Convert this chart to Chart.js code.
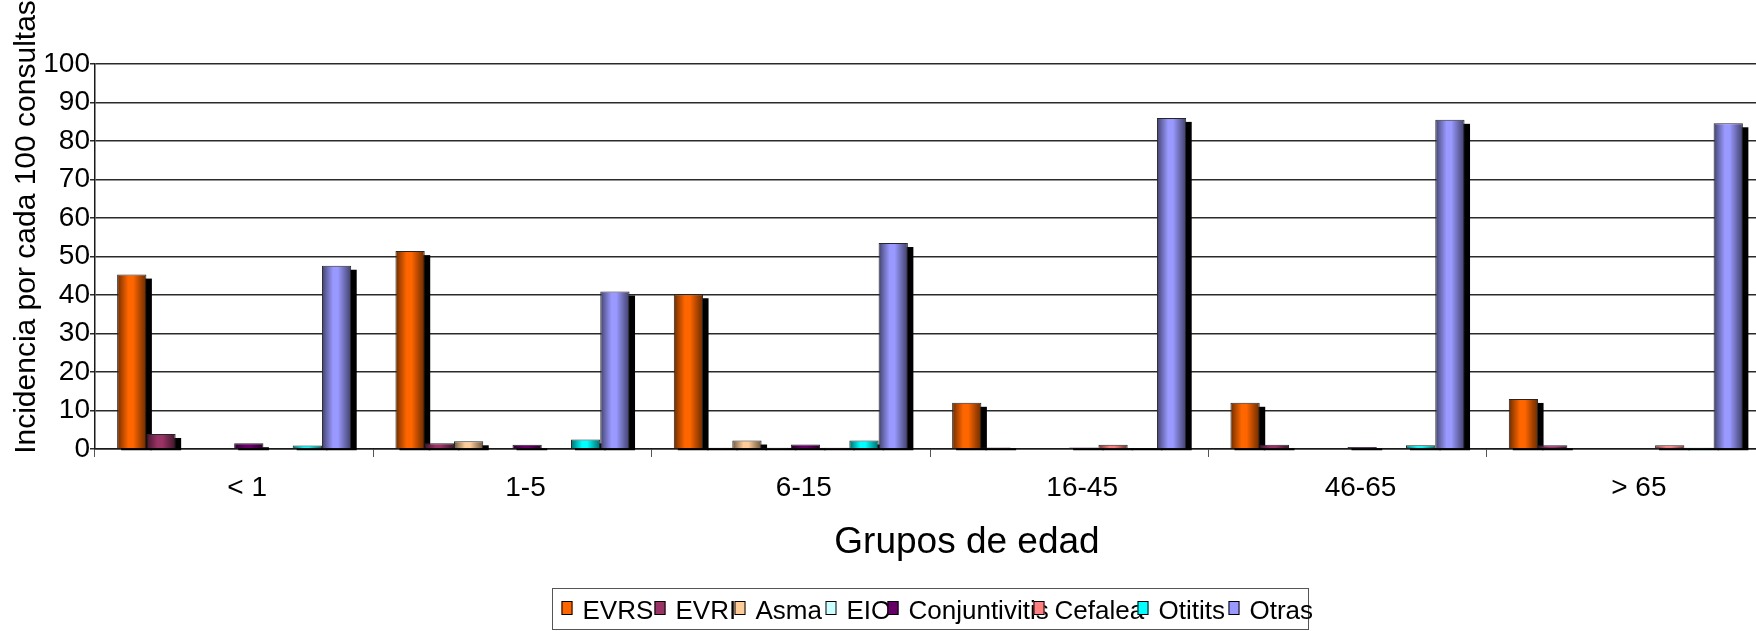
<!DOCTYPE html>
<html lang="es">
<head>
<meta charset="utf-8">
<title>Incidencia por grupos de edad</title>
<script src="https://cdn.jsdelivr.net/npm/chart.js@4.4.1/dist/chart.umd.min.js"></script>
<style>
  html, body { margin: 0; padding: 0; background: #fff; overflow: hidden; }
  #wrap { width: 1775px; height: 631px; }
</style>
</head>
<body>
<div id="wrap"><canvas id="chart" width="1775" height="631"></canvas></div>
<script>
// Grupos de edad
const CATEGORIES = ['< 1', '1-5', '6-15', '16-45', '46-65', '> 65'];

// Incidencia por cada 100 consultas, por motivo
const EVRS          = [45.3, 51.4, 40.2, 12.0, 12.0, 13.0];
const EVRI          = [3.9, 1.5, 0.3, 0.4, 1.1, 1.0];
const ASMA          = [0, 2.0, 2.2, 0, 0, 0];
const EIO           = [0, 0, 0.3, 0, 0, 0];
const CONJUNTIVITIS = [1.5, 1.1, 1.2, 0.4, 0.5, 0];
const CEFALEA       = [0, 0, 0.3, 1.1, 0, 1.0];
const OTITITS       = [0.9, 2.5, 2.2, 0.2, 1.0, 0.3];
const OTRAS         = [47.6, 40.9, 53.5, 86.0, 85.5, 84.6];

const SERIES_NAMES  = ['EVRS', 'EVRI', 'Asma', 'EIO', 'Conjuntivitis', 'Cefalea', 'Otitits', 'Otras'];
const SERIES_VALUES = [EVRS, EVRI, ASMA, EIO, CONJUNTIVITIS, CEFALEA, OTITITS, OTRAS];
const SERIES_COLORS = ['#FF6600', '#993366', '#FFCC99', '#CCFFFF', '#660066', '#FF8080', '#00FFFF', '#9999FF'];

// Eje vertical
const Y_MIN = 0, Y_MAX = 100, Y_STEP = 10;

const Y_TITLE = 'Incidencia por cada 100 consultas';
const X_TITLE = 'Grupos de edad';

const FONT = '"Liberation Sans", Arial, Helvetica, sans-serif';

// Anchura de cada hueco de la leyenda (px)
const LEGEND_SLOTS = [93, 80, 91, 62, 146, 104, 91, 80];

function shade(hex, f) {
  const n = parseInt(hex.slice(1), 16);
  const r = Math.round(((n >> 16) & 255) * f);
  const g = Math.round(((n >> 8) & 255) * f);
  const b = Math.round((n & 255) * f);
  return 'rgb(' + r + ',' + g + ',' + b + ')';
}

// Sombra negra y sombreado cilíndrico de cada columna
const barShading = {
  id: 'barShading',
  beforeDatasetsDraw(chart) {
    const ctx = chart.ctx;
    chart.data.datasets.forEach((ds, di) => {
      const meta = chart.getDatasetMeta(di);
      const base = SERIES_COLORS[di];
      meta.data.forEach((el, i) => {
        const v = ds.data[i];
        if (!v) return;
        const p = el.getProps(['x', 'y', 'base', 'width'], true);
        const left = p.x - p.width / 2;
        const top = Math.min(p.y + 4, p.base);
        ctx.save();
        ctx.fillStyle = '#000';
        ctx.fillRect(left + 4, top, p.width + 1.5, p.base + 2 - top);
        ctx.restore();
        const g = ctx.createLinearGradient(left, 0, left + p.width, 0);
        g.addColorStop(0, shade(base, 0.42));
        g.addColorStop(0.15, shade(base, 0.66));
        g.addColorStop(0.38, shade(base, 1));
        g.addColorStop(0.55, shade(base, 1));
        g.addColorStop(0.82, shade(base, 0.64));
        g.addColorStop(1, shade(base, 0.42));
        el.options = Object.assign({}, el.options, { backgroundColor: g });
      });
    });
  }
};

// Títulos de los ejes y leyenda enmarcada
const decorations = {
  id: 'decorations',
  afterDraw(chart) {
    const ctx = chart.ctx;
    const area = chart.chartArea;
    ctx.save();
    ctx.fillStyle = '#000';

    // título del eje vertical
    ctx.save();
    ctx.font = '30px ' + FONT;
    ctx.textAlign = 'center';
    ctx.textBaseline = 'alphabetic';
    ctx.translate(35, 227);
    ctx.rotate(-Math.PI / 2);
    ctx.fillText(Y_TITLE, 0, 0);
    ctx.restore();

    // título del eje horizontal
    ctx.font = '37px ' + FONT;
    ctx.textAlign = 'center';
    ctx.textBaseline = 'alphabetic';
    ctx.fillText(X_TITLE, (area.left + area.right) / 2 + 37, 553);

    // leyenda
    const boxW = 756;
    const boxL = Math.round((area.left + area.right) / 2 - boxW / 2) + 0.5;
    const boxT = 588.5, boxB = 629.5;
    ctx.strokeStyle = '#555';
    ctx.lineWidth = 1;
    ctx.strokeRect(boxL, boxT, boxW, boxB - boxT);

    ctx.font = '26px ' + FONT;
    ctx.textAlign = 'left';
    let x = boxL + 9;
    SERIES_NAMES.forEach((name, i) => {
      ctx.fillStyle = SERIES_COLORS[i];
      ctx.fillRect(x, 601, 11, 14);
      ctx.strokeStyle = '#000';
      ctx.strokeRect(x + 0.5, 601.5, 10, 13);
      ctx.fillStyle = '#000';
      ctx.fillText(name, x + 21, 619);
      x += LEGEND_SLOTS[i];
    });
    ctx.restore();
  }
};

new Chart(document.getElementById('chart'), {
  type: 'bar',
  data: {
    labels: CATEGORIES,
    datasets: SERIES_NAMES.map((name, i) => ({
      label: name,
      data: SERIES_VALUES[i],
      backgroundColor: SERIES_COLORS[i],
      borderColor: '#262626',
      borderWidth: 1,
      categoryPercentage: 0.841,
      barPercentage: 1.0
    }))
  },
  options: {
    responsive: false,
    animation: false,
    devicePixelRatio: 1,
    layout: { padding: { left: 0, right: 10, top: 64, bottom: 122 } },
    plugins: {
      legend: { display: false },
      tooltip: { enabled: false },
      title: { display: false }
    },
    scales: {
      x: {
        afterFit(scale) { scale.height = 60; },
        grid: {
          offset: true,
          drawOnChartArea: false,
          drawTicks: true,
          tickLength: 8,
          color: '#555'
        },
        border: { display: true, color: '#1a1a1a', width: 1.5 },
        ticks: {
          color: '#000',
          font: { family: FONT, size: 28 },
          padding: 14,
          labelOffset: 13,
          maxRotation: 0,
          autoSkip: false
        }
      },
      y: {
        min: Y_MIN,
        max: Y_MAX,
        afterFit(scale) { scale.width = 95; },
        grid: { color: '#2a2a2a', lineWidth: 1.5, tickLength: 5 },
        border: { display: true, color: '#1a1a1a', width: 1.5 },
        ticks: {
          stepSize: Y_STEP,
          color: '#000',
          font: { family: FONT, size: 28 },
          padding: 0
        }
      }
    }
  },
  plugins: [barShading, decorations]
});
</script>
</body>
</html>
